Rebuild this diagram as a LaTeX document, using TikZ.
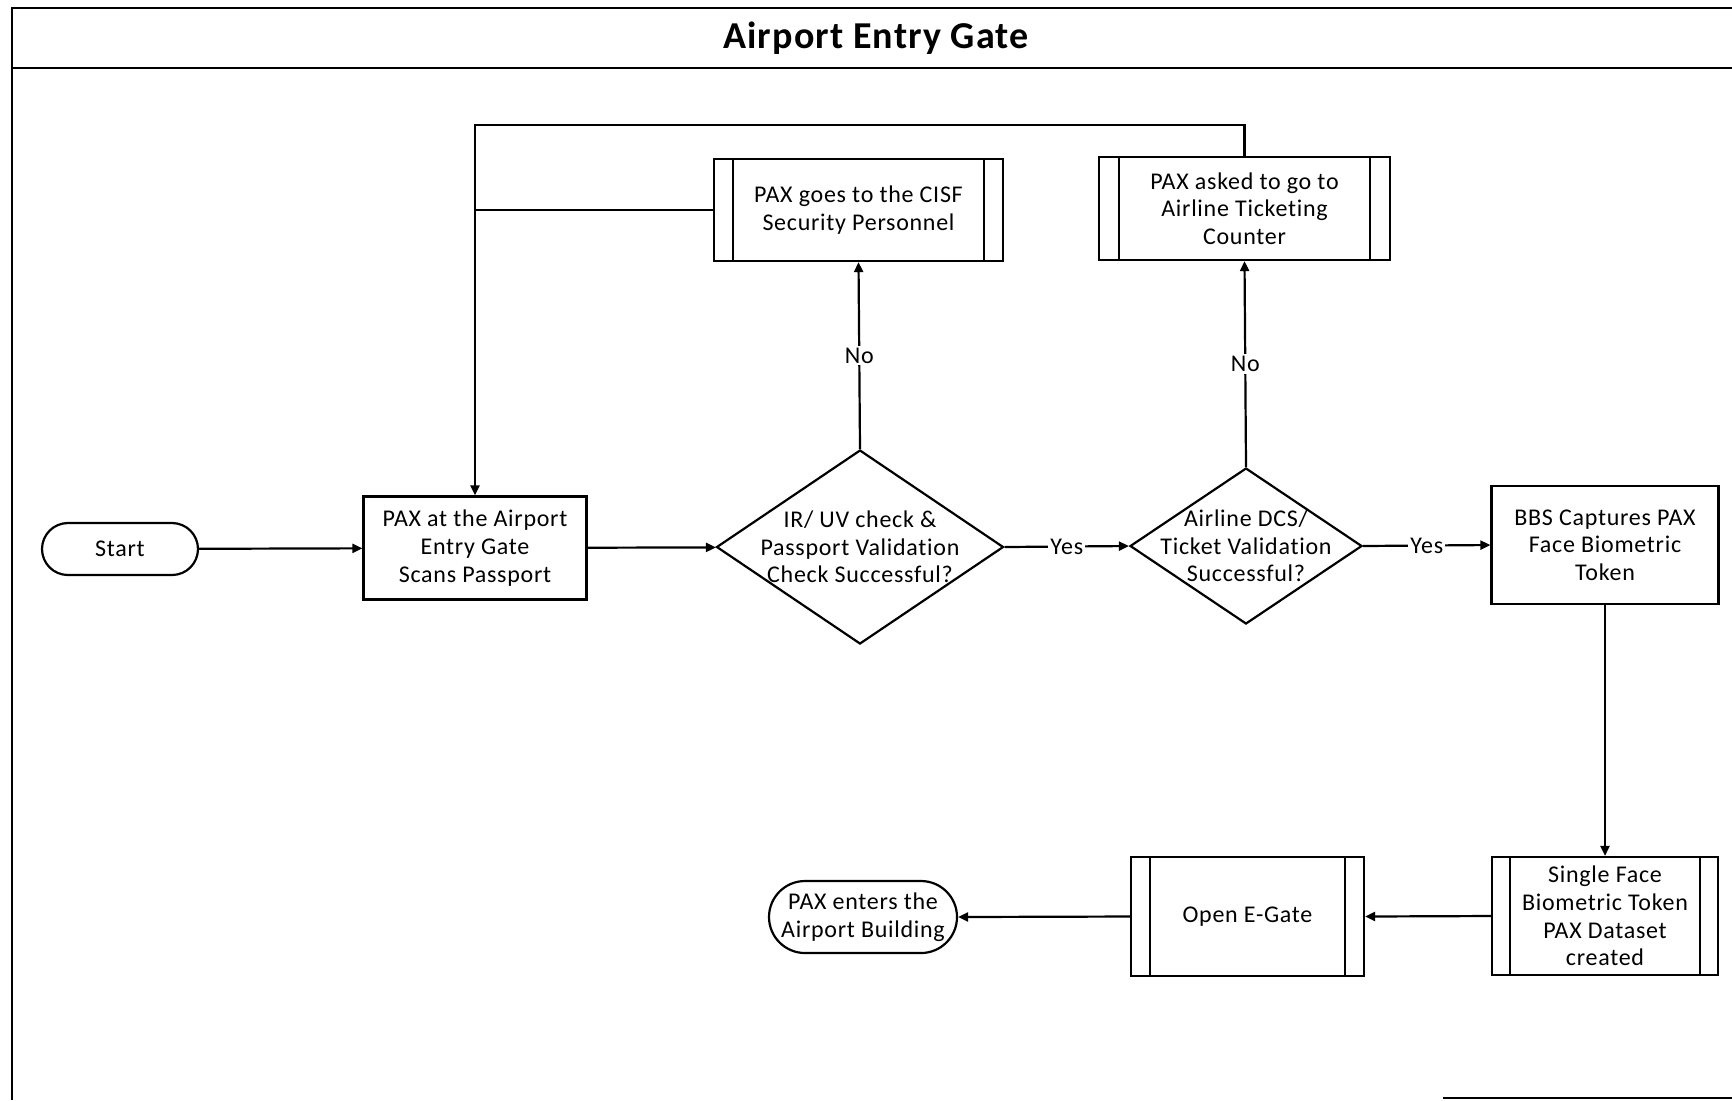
\documentclass[tikz,border=0pt]{standalone}
\usepackage{fontspec}
\setmainfont{Carlito}[LetterSpace=3, Ligatures={NoCommon}]
\newfontfamily\headfont{Carlito}[LetterSpace=3, Ligatures={NoCommon}]
\usetikzlibrary{shapes.geometric,arrows.meta}
\begin{document}
\begin{tikzpicture}[x=0.5pt,y=-0.5pt,
  line width=1.1pt,
  every node/.style={font=\fontsize{12}{13.8}\selectfont, align=center},
  proc/.style={draw, rectangle, inner sep=0pt},
  subproc/.style={proc, path picture={
      \draw ([xshift=#1]path picture bounding box.north west) -- ([xshift=#1]path picture bounding box.south west);
      \draw ([xshift=-#1]path picture bounding box.north east) -- ([xshift=-#1]path picture bounding box.south east);}},
  term/.style={draw, rectangle, rounded corners=#1, inner sep=0pt},
  decision/.style={draw, diamond, inner sep=0pt},
  arr/.style={-{Triangle[length=5pt,width=4.5pt]}},
  lbl/.style={fill=white, inner sep=1pt},
]
\useasboundingbox (0,0) rectangle (1732,1100);

% page frame and title band
\draw (1732,8) -- (12,8) -- (12,1100);
\draw (12,68) -- (1732,68);
\draw (1443,1098) -- (1732,1098);
\node[font=\headfont\bfseries\fontsize{19}{22}\selectfont] (title) at (876,38) {Airport Entry Gate};

% flow nodes
\node[term=13pt, minimum width=78pt, minimum height=26pt] (start) at (120,549) {Start};
\node[proc, minimum width=111.5pt, minimum height=51.5pt] (scan) at (475,548) {PAX at the Airport\\Entry Gate\\Scans Passport};
\node[decision, minimum width=143.5pt, minimum height=97pt] (d1) at (860,547) {};
\node (d1t) at (860,547) {IR/ UV check \&\\Passport Validation\\Check Successful?};
\node[decision, minimum width=116pt, minimum height=78pt] (d2) at (1246,546) {};
\node (d2t) at (1246,546) {Airline DCS/\\Ticket Validation\\Successful?};
\node[proc, minimum width=113.5pt, minimum height=59pt] (bbs) at (1605,545) {BBS Captures PAX\\Face Biometric\\Token};
\node[subproc=9.5pt, minimum width=144.5pt, minimum height=51pt] (cisf) at (858.5,210) {PAX goes to the CISF\\Security Personnel};
\node[subproc=10pt, minimum width=145.5pt, minimum height=51.5pt] (ticket) at (1244.5,208.5) {PAX asked to go to\\Airline Ticketing\\Counter};
\node[subproc=9pt, minimum width=113pt, minimum height=59pt] (single) at (1605,916) {Single Face\\Biometric Token\\PAX Dataset\\created};
\node[subproc=9.5pt, minimum width=116.5pt, minimum height=59.5pt] (egate) at (1247.5,916.5) {Open E-Gate};
\node[term=18pt, minimum width=94pt, minimum height=36pt] (pend) at (863,917) {PAX enters the\\Airport Building};

% connectors
\draw[arr] (start) -- (scan);
\draw[arr] (scan) -- (d1);
\draw[arr] (d1.north) -- node[lbl] {No} (cisf.south);
\draw[arr] (d1.east) -- node[lbl] {Yes} (d2.west);
\draw[arr] (d2.north) -- node[lbl] {No} (ticket.south);
\draw[arr] (d2.east) -- node[lbl] {Yes} (bbs.west);
\draw[arr] (bbs.south) -- (single.north);
\draw[arr] (single.west) -- (egate.east);
\draw[arr] (egate.west) -- (pend.east);

% return loop
\coordinate (ltop) at (475,125);
\draw[arr] (ticket.north) |- (ltop) -- (scan.north);
\draw (cisf.west) -- (cisf.west -| ltop);
\end{tikzpicture}
\end{document}
